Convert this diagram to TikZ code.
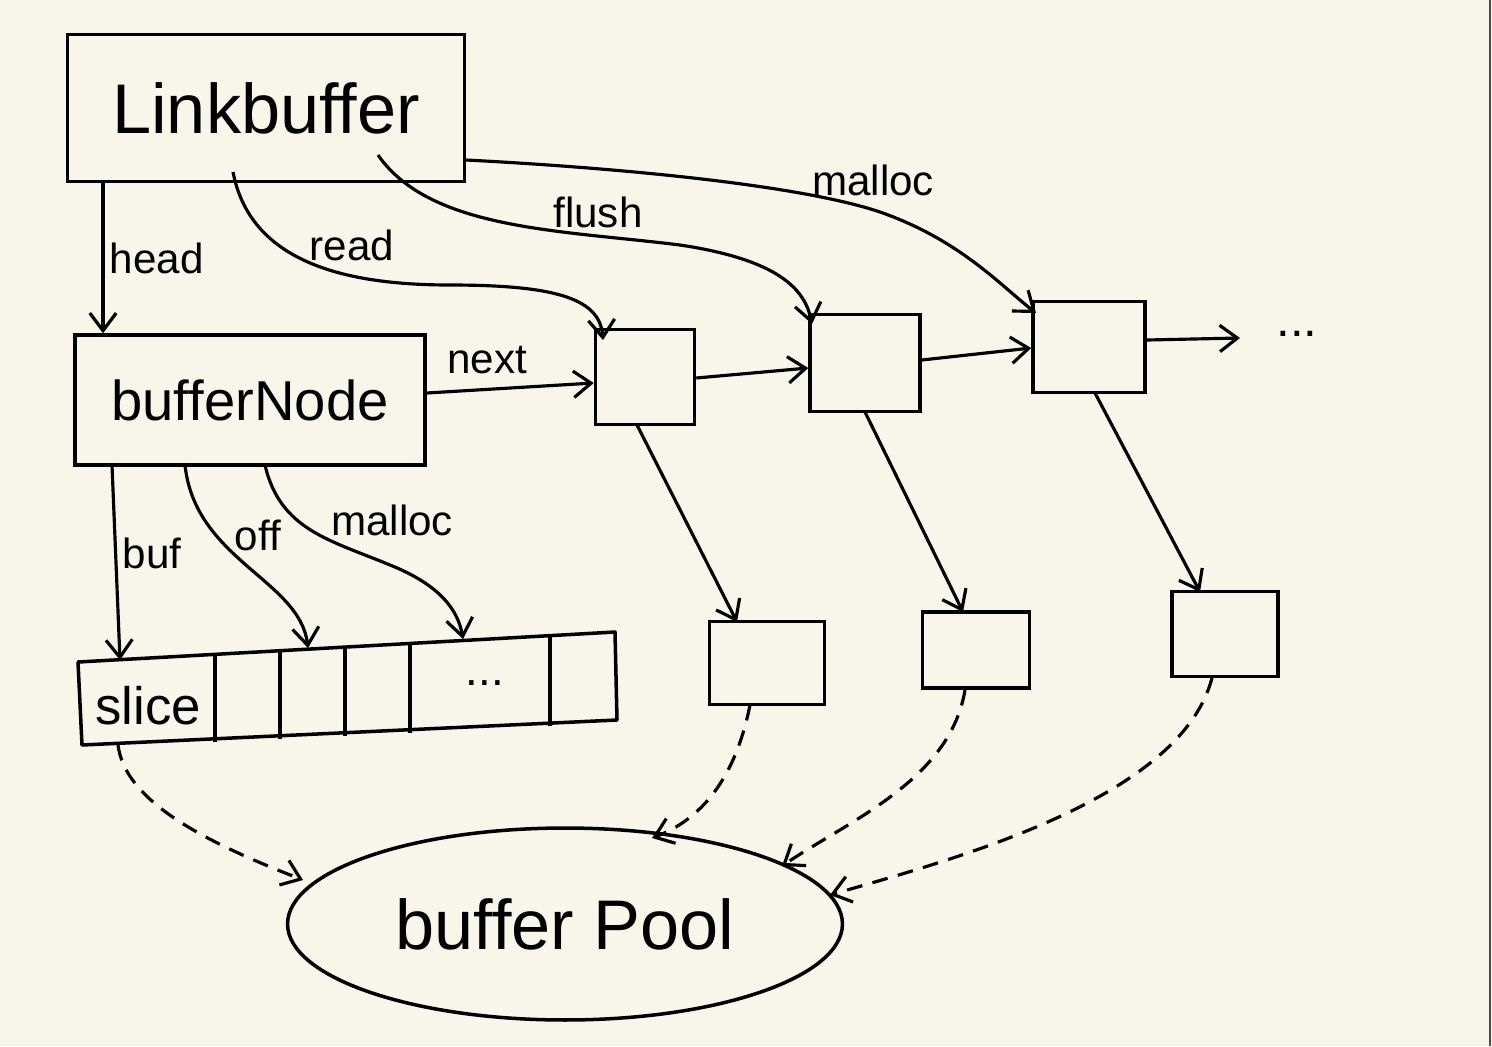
\documentclass[tikz,border=0pt]{standalone}
\usepackage{fontspec}
\setmainfont{Liberation Sans}
\usetikzlibrary{arrows.meta,shapes.geometric}
\definecolor{paper}{HTML}{F8F6EA}
\tikzset{
  box/.style={draw, line width=2pt, inner sep=0pt},
  arr/.style={line width=1.8pt, -{Straight Barb[length=10pt,width=15pt,line width=1.8pt]}},
  darr/.style={arr, dash pattern=on 9pt off 6pt},
  lbl/.style={font=\fontsize{24}{26}\selectfont, inner sep=1pt},
}
\begin{document}
\begin{tikzpicture}[x=0.02cm,y=-0.02cm]
\fill[paper] (0,0) rectangle (1492,1046);
\useasboundingbox (0,0) rectangle (1492,1046);
\draw[line width=1.2pt, black!70] (1490,0) -- (1490,1046);

% main boxes
\node[box, minimum width=7.94cm, minimum height=2.94cm, font=\fontsize{40}{44}\selectfont] (lb) at (266,108) {Linkbuffer};
\node[box, minimum width=7cm, minimum height=2.6cm, font=\fontsize{32}{36}\selectfont] (bn) at (250,400) {bufferNode};

% top row
\node[box, minimum width=1.98cm, minimum height=1.9cm] (n1) at (645,377) {};
\node[box, minimum width=2.2cm, minimum height=1.94cm] (n2) at (865,363) {};
\node[box, minimum width=2.24cm, minimum height=1.82cm] (n3) at (1089,347) {};
\node[font=\fontsize{28}{30}\selectfont] (dots1) at (1297,334) {...};
\coordinate (n3end) at (1240,338);

% bottom row
\node[box, minimum width=2.3cm, minimum height=1.66cm] (m1) at (767,663) {};
\node[box, minimum width=2.14cm, minimum height=1.52cm] (m2) at (976,650) {};
\node[box, minimum width=2.12cm, minimum height=1.7cm] (m3) at (1225,634) {};

% slice row
\draw[line width=2pt, line join=round] (78,662) -- (615,632) -- (617,720) -- (82,745) -- cycle;
\foreach \xa/\ya/\yb in {215/654/742, 280/650/739, 345/647/736, 410/643/733, 550/635/726}
  \draw[line width=2pt] (\xa,\ya) -- (\xa,\yb);
\node[font=\fontsize{30}{32}\selectfont] (slice) at (148,706) {slice};
\node[font=\fontsize{26}{28}\selectfont] (dots2) at (485,683) {...};
\coordinate (sliceTop) at (120,660);
\coordinate (offTop) at (308,648);
\coordinate (mallocTop) at (463,639);
\coordinate (sliceBot) at (118,745);

% pool
\node[draw, line width=2pt, ellipse, minimum width=11.1cm, minimum height=3.84cm, font=\fontsize{40}{44}\selectfont] (pool) at (565,924) {buffer Pool};
\coordinate (p1) at (303,880);
\coordinate (p2) at (652,838);
\coordinate (p3) at (782,866);
\coordinate (p4) at (830,895);

% Linkbuffer arrows
\draw[arr] (lb.south west -| 103,0) -- (bn.north west -| 103,0) node[lbl, midway, right=2pt] {head};
\draw[arr] (233,172) .. controls (250,260) and (340,285) .. (450,285) .. controls (560,285) and (600,300) .. (603,340);
\node[lbl] (lread) at (352,245) {read};
\draw[arr] (378,155) .. controls (430,230) and (560,230) .. (680,245) .. controls (780,260) and (805,290) .. (812,324);
\node[lbl] (lflush) at (598,212) {flush};
\draw[arr] (lb.east |- 0,160) .. controls (620,168) and (800,185) .. (880,212) .. controls (960,240) and (1000,285) .. (1036,313);
\node[lbl] (lmalloc) at (873,180) {malloc};

% next chain
\draw[arr] (bn.east |- 0,393) -- (n1.west |- 0,383);
\node[lbl] (lnext) at (487,360) {next};
\draw[arr] (n1.east |- 0,378) -- (n2.west |- 0,368);
\draw[arr] (n2.east |- 0,360) -- (n3.west |- 0,348);
\draw[arr] (n3.east |- 0,340) -- (n3end);

% down arrows
\draw[arr] (637,425) -- (737,622);
\draw[arr] (865,412) -- (963,612);
\draw[arr] (1095,393) -- (1200,592);

% bufferNode arrows
\draw[arr] (112,465) -- (sliceTop);
\node[lbl] (lbuf) at (152,553) {buf};
\draw[arr] (185,465) .. controls (195,560) and (300,580) .. (offTop);
\node[lbl] (loff) at (258,535) {off};
\draw[arr] (265,465) .. controls (280,530) and (330,540) .. (390,565) .. controls (440,585) and (458,610) .. (mallocTop);
\node[lbl] (lmalloc2) at (392,520) {malloc};

% dashed to pool
\draw[darr] (sliceBot) .. controls (125,800) and (200,840) .. (p1);
\draw[darr] (750,705) .. controls (735,780) and (700,820) .. (p2);
\draw[darr] (965,690) .. controls (950,780) and (850,820) .. (p3);
\draw[darr] (1212,678) .. controls (1180,800) and (950,860) .. (p4);
\end{tikzpicture}
\end{document}
